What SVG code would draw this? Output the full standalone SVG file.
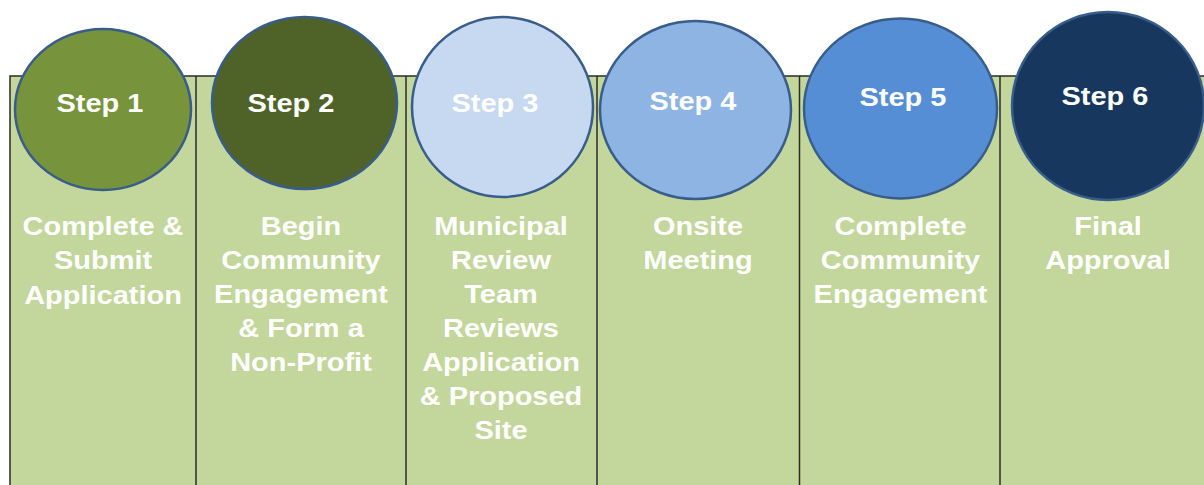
<svg xmlns="http://www.w3.org/2000/svg" width="1204" height="485" viewBox="0 0 1204 485">
<style>
.bg{fill:#C3D69B;stroke:#2b2b2b;stroke-width:1.5}
.div{stroke:#2b2b2b;stroke-width:1.5}
.c{stroke:#385D8A;stroke-width:2.5}
.t{font-family:"Liberation Sans",Arial,sans-serif;font-weight:bold;font-size:26px;fill:#ffffff;text-anchor:middle}
</style>
<rect width="1204" height="485" fill="#ffffff"/>
<rect class="bg" x="10" y="76" width="1210" height="420"/>
<g id="connectors">
<line class="div" x1="196" y1="76" x2="196" y2="485"/>
<line class="div" x1="406" y1="76" x2="406" y2="485"/>
<line class="div" x1="597" y1="76" x2="597" y2="485"/>
<line class="div" x1="799.5" y1="76" x2="799.5" y2="485"/>
<line class="div" x1="1000" y1="76" x2="1000" y2="485"/>
</g>
<g id="step1">
<ellipse class="c" cx="103" cy="109.5" rx="88" ry="80.5" fill="#77933C"/>
<text class="t" transform="translate(100,112) scale(1.115,1)">Step 1</text>
<text class="t" transform="translate(103,235) scale(1.115,1)"><tspan x="0" y="0">Complete &amp;</tspan><tspan x="0" y="34">Submit</tspan><tspan x="0" y="69">Application</tspan></text>
</g>
<g id="step2">
<ellipse class="c" cx="304.5" cy="103" rx="92.5" ry="86" fill="#4F6228"/>
<text class="t" transform="translate(291,112) scale(1.115,1)">Step 2</text>
<text class="t" transform="translate(301,235) scale(1.115,1)"><tspan x="0" y="0">Begin</tspan><tspan x="0" y="34">Community</tspan><tspan x="0" y="68">Engagement</tspan><tspan x="0" y="102">&amp; Form a</tspan><tspan x="0" y="136">Non-Profit</tspan></text>
</g>
<g id="step3">
<ellipse class="c" cx="502.5" cy="107" rx="90.5" ry="90" fill="#C6D9F1"/>
<text class="t" transform="translate(495,111.5) scale(1.115,1)">Step 3</text>
<text class="t" transform="translate(501,235) scale(1.115,1)"><tspan x="0" y="0">Municipal</tspan><tspan x="0" y="34">Review</tspan><tspan x="0" y="68">Team</tspan><tspan x="0" y="102">Reviews</tspan><tspan x="0" y="136">Application</tspan><tspan x="0" y="170">&amp; Proposed</tspan><tspan x="0" y="204">Site</tspan></text>
</g>
<g id="step4">
<ellipse class="c" cx="695.5" cy="110" rx="95.5" ry="89" fill="#8EB4E3"/>
<text class="t" transform="translate(693,110) scale(1.115,1)">Step 4</text>
<text class="t" transform="translate(698,235) scale(1.115,1)"><tspan x="0" y="0">Onsite</tspan><tspan x="0" y="34">Meeting</tspan></text>
</g>
<g id="step5">
<ellipse class="c" cx="900.5" cy="108.5" rx="96.5" ry="90" fill="#558ED5"/>
<text class="t" transform="translate(903,106) scale(1.115,1)">Step 5</text>
<text class="t" transform="translate(900.5,235) scale(1.115,1)"><tspan x="0" y="0">Complete</tspan><tspan x="0" y="34">Community</tspan><tspan x="0" y="68">Engagement</tspan></text>
</g>
<g id="step6">
<ellipse class="c" cx="1108" cy="106" rx="96" ry="94" fill="#17375E"/>
<text class="t" transform="translate(1105,105) scale(1.115,1)">Step 6</text>
<text class="t" transform="translate(1108,235) scale(1.115,1)"><tspan x="0" y="0">Final</tspan><tspan x="0" y="34">Approval</tspan></text>
</g>
</svg>
